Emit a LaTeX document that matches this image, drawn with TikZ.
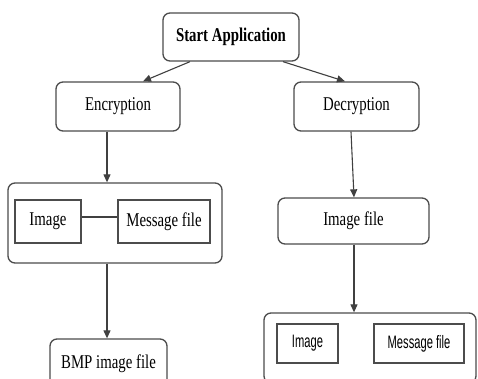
\documentclass[tikz,border=0pt]{standalone}
\usepackage{fontspec}
\setmainfont{Liberation Serif}
\newfontfamily\boxfont[FakeStretch=0.76]{Liberation Serif}
\newfontfamily\sansbox[FakeStretch=0.62]{Liberation Sans}
\usetikzlibrary{arrows.meta}
\begin{document}
\begin{tikzpicture}[x=1pt, y=-1pt,
    every node/.style={draw=black!70, line width=1.3pt, font=\boxfont\fontsize{19.5}{20}\selectfont, inner sep=0pt},
    step box/.style={rounded corners=7pt},
    part box/.style={line width=1.2pt},
    arr/.style={draw=black!75, line width=1.1pt, -{Triangle[length=8pt,width=7pt]}}]
      \clip (0,0) rectangle (478,379);
      \fill[white] (0,0) rectangle (478,379);

      \node[step box, minimum width=136pt, minimum height=48pt] (start) at (231,37) {\bfseries Start Application};
      \node[step box, minimum width=124pt, minimum height=49pt] (enc) at (118,106.5) {Encryption};
      \node[step box, minimum width=125pt, minimum height=49pt] (dec) at (356.5,106.5) {Decryption};

      \node[step box, minimum width=214pt, minimum height=80pt] (lbox) at (115,223) {};
      \node[part box, minimum width=66pt, minimum height=43pt] (limg) at (48,221.5) {Image};
      \node[part box, minimum width=92pt, minimum height=43pt] (lmsg) at (164,221.5) {Message file};
      \node[step box, minimum width=117pt, minimum height=49pt] (bmp) at (108.5,363.5) {BMP image file};

      \node[step box, minimum width=151pt, minimum height=46pt] (imgfile) at (353.5,221) {Image file};
      \node[step box, minimum width=212pt, minimum height=70pt] (rbox) at (370,348) {};
      \node[part box, minimum width=61pt, minimum height=39pt, font=\sansbox\fontsize{18}{19}\selectfont] (rimg) at (307.5,343.5) {Image};
      \node[part box, minimum width=90pt, minimum height=39pt, font=\sansbox\fontsize{18}{19}\selectfont] (rmsg) at (419,343.5) {Message file};

      \draw[arr] ([xshift=-41pt]start.south) -- ([xshift=25pt]enc.north);
      \draw[arr] ([xshift=52pt]start.south) -- ([xshift=-11.5pt]dec.north);
      \draw[arr] ([xshift=-11pt]enc.south) -- ([xshift=-8pt]lbox.north);
      \draw[arr] ([xshift=-8pt]lbox.south) -- ([xshift=-1.5pt]bmp.north);
      \draw[draw=black!75, line width=1.1pt] ([yshift=4.5pt]limg.east) -- ([yshift=4.5pt]lmsg.west);
      \draw[arr] ([xshift=-5.5pt]dec.south) -- ([xshift=0.5pt]imgfile.north);
      \draw[arr] ([xshift=0.5pt]imgfile.south) -- ([xshift=-16pt]rbox.north);
    \end{tikzpicture}
\end{document}
